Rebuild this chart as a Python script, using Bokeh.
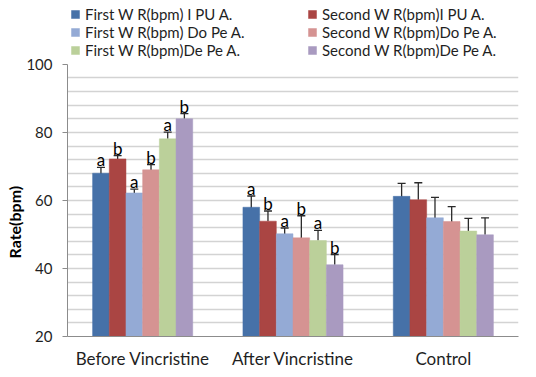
from bokeh.plotting import figure
from bokeh.models import (FactorRange, Range1d, FixedTicker, Legend, LegendItem,
                          Whisker, ColumnDataSource, TeeHead, Title)
from bokeh.transform import dodge
from bokeh.core.properties import value
from bokeh.embed import file_html
from bokeh.resources import INLINE

categories = ["Before Vincristine", "After Vincristine", "Control"]
series_names = ["First W R(bpm) I PU A.", "Second W R(bpm)I PU A.",
                "First W R(bpm) Do Pe A.", "Second W R(bpm)Do Pe A.",
                "First W R(bpm)De Pe A.", "Second W R(bpm)De Pe A."]
colors = ["#4671A8", "#AA4543", "#94AAD5", "#D59392", "#BBD09A", "#A99AC0"]

first_ipu = [68.0, 58.0, 61.2]
second_ipu = [72.2, 53.9, 60.2]
first_dope = [62.2, 50.2, 54.9]
second_dope = [69.0, 49.0, 53.8]
first_depe = [78.1, 48.2, 51.0]
second_depe = [84.0, 41.1, 49.9]
series_values = [first_ipu, second_ipu, first_dope, second_dope, first_depe, second_depe]

err_up = [[1.7, 3.3, 3.8], [1.0, 3.0, 5.0], [1.1, 1.7, 6.0],
          [1.5, 6.5, 4.4], [2.0, 3.0, 3.7], [1.5, 3.0, 5.0]]
err_lo = [[1.0, 0.8, 1.2], [0.0, 0.0, 0.0], [1.2, 1.2, 0.8],
          [1.0, 0.8, 1.2], [0.0, 0.0, 0.0], [0.0, 0.0, 0.0]]
letters = [["a", "a", ""], ["b", "b", ""], ["a", "a", ""],
           ["b", "b", ""], ["a", "a", ""], ["b", "b", ""]]

y_ticks = [20, 40, 60, 80, 100]
grid_ticks = list(range(24, 100, 4))
y_title = "Rate(bpm)"

FONT = "Lato"
TXT = "#1F1F1F"

p = figure(width=536, height=377,
           x_range=FactorRange(factors=categories, range_padding=0),
           y_range=Range1d(20, 117.6),
           output_backend="svg", toolbar_location=None,
           min_border_left=67, min_border_right=18,
           min_border_top=4, min_border_bottom=41)
p.outline_line_color = None
p.xgrid.visible = False
p.ygrid.ticker = FixedTicker(ticks=grid_ticks)
p.ygrid.grid_line_color = "#D3D3D3"
p.ygrid.grid_line_width = 1.3

bar_w = 0.111
n = len(series_names)
offsets = [(i - (n - 1) / 2) * bar_w for i in range(n)]

renderers = []
for i in range(n):
    vals = series_values[i]
    src = ColumnDataSource(dict(
        cat=categories, val=vals,
        upper=[v + e for v, e in zip(vals, err_up[i])],
        lower=[v - e for v, e in zip(vals, err_lo[i])],
        lab=letters[i]))
    r = p.vbar(x=dodge("cat", offsets[i], range=p.x_range), top="val", bottom=20,
               width=bar_w, fill_color=colors[i], line_color=colors[i], line_width=0.5,
               source=src)
    renderers.append(r)
    w = Whisker(base=dodge("cat", offsets[i], range=p.x_range), upper="upper",
                lower="lower", source=src, line_color="#2A2A2A", line_width=1.3,
                upper_head=TeeHead(size=8, line_color="#2A2A2A", line_width=1.3),
                lower_head=None)
    p.add_layout(w)
    lo_idx = [k for k in range(len(categories)) if err_lo[i][k] > 0]
    if lo_idx:
        src_lo = ColumnDataSource(dict(
            cat=[categories[k] for k in lo_idx],
            upper=[vals[k] for k in lo_idx],
            lower=[vals[k] - err_lo[i][k] for k in lo_idx]))
        wl = Whisker(base=dodge("cat", offsets[i], range=p.x_range), upper="upper",
                     lower="lower", source=src_lo, line_color="#2A2A2A", line_width=1.3,
                     upper_head=None,
                     lower_head=TeeHead(size=8, line_color="#2A2A2A", line_width=1.3))
        p.add_layout(wl)
    p.text(x=dodge("cat", offsets[i], range=p.x_range), y="upper", text="lab",
           source=src, text_align="center", text_baseline="bottom",
           text_font=value(FONT), text_font_size="17px", text_color="#000000",
           y_offset=3)

# axes
p.yaxis.ticker = FixedTicker(ticks=y_ticks)
p.yaxis.bounds = (20, 100)
p.yaxis.major_tick_out = 5
p.yaxis.major_tick_in = 0
p.yaxis.minor_tick_line_color = None
p.yaxis.axis_line_color = "#8C8C8C"
p.yaxis.major_tick_line_color = "#8C8C8C"
p.yaxis.major_label_text_font = FONT
p.yaxis.major_label_text_font_size = "15px"
p.yaxis.major_label_text_color = TXT
p.yaxis.major_label_standoff = 10

p.add_layout(Title(text=y_title, align="left", offset=78, text_font=FONT,
                   text_font_style="bold", text_font_size="16px",
                   text_color="#000000", standoff=0), "left")

p.xaxis.major_tick_out = 0
p.xaxis.major_tick_in = 0
p.xaxis.axis_line_color = "#8C8C8C"
p.xaxis.major_label_text_font = FONT
p.xaxis.major_label_text_font_size = "17px"
p.xaxis.major_label_text_color = TXT
p.xaxis.major_label_standoff = 11

# legend: two columns of three
def make_legend(idx, loc):
    leg = Legend(items=[LegendItem(label=series_names[k], renderers=[renderers[k]]) for k in idx],
                 location=loc, orientation="vertical")
    leg.label_text_font = FONT
    leg.label_text_font_size = "15px"
    leg.label_text_color = TXT
    leg.glyph_width = 10
    leg.glyph_height = 10
    leg.label_height = 16
    leg.label_standoff = 5
    leg.spacing = 0
    leg.padding = 0
    leg.margin = 0
    leg.border_line_color = None
    leg.background_fill_color = "white"
    leg.background_fill_alpha = 1
    return leg

p.add_layout(make_legend([0, 2, 4], (3, 277)))
p.add_layout(make_legend([1, 3, 5], (240, 277)))

open("out.html", "w").write(file_html(p, INLINE))
